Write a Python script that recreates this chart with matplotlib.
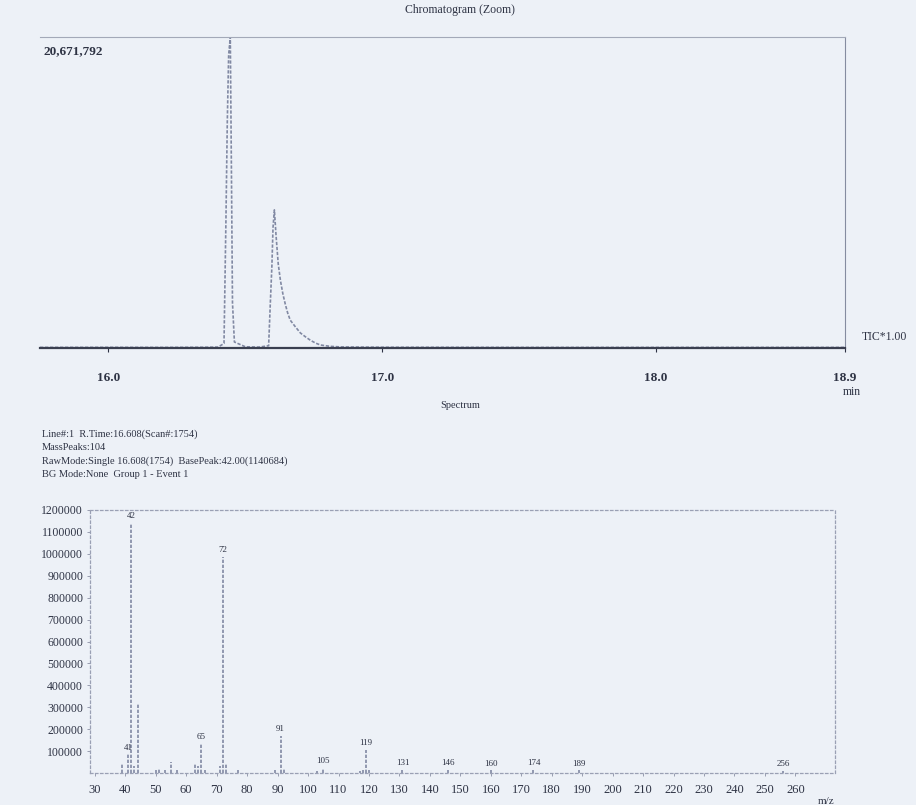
import matplotlib
matplotlib.use("Agg")
import matplotlib.pyplot as plt

# TIC trace around the two peaks (minutes, counts)
retTimes=[15.75,16.00,16.20,16.35,16.40,16.422,16.429,16.434,16.439,16.445,16.449,16.453,16.460,
          16.50,16.55,16.585,16.591,16.597,16.601,16.606,16.612,16.620,16.628,16.637,16.646,16.655,
          16.664,16.683,16.701,16.719,16.737,16.756,16.774,16.81,16.85,17.0,17.5,18.0,18.69]
ticCounts=[40000,45000,40000,50000,60000,300000,8400000,15000000,19500000,20671792,12000000,3000000,400000,
           80000,60000,150000,2900000,5500000,8000000,9180000,7500000,5600000,4500000,3600000,2900000,2300000,
           1850000,1400000,1000000,750000,520000,330000,200000,110000,70000,50000,40000,40000,40000]
timeTicks=[16.0,17.0,18.0,18.69]
timeTickLabels=["16.0","17.0","18.0","18.9"]

# mass spectrum at 16.608 min
massValues=[39,41,42,43,44,50,51,53,55,57,63,64,65,66,71,72,73,77,89,91,92,103,105,117,118,119,120,
            131,146,160,174,189,256]
intensities=[40000,85000,1140684,30000,315000,15000,20000,15000,50000,15000,40000,30000,135000,15000,30000,
             985000,40000,15000,15000,170000,20000,10000,25000,10000,15000,105000,15000,
             15000,14000,12000,15000,12000,8000]
labelledMasses=[41,42,65,72,91,105,119,131,146,160,174,189,256]
intensityTicks=list(range(100000,1200001,100000))
massTicks=list(range(30,261,10))

headerLines=["Line#:1  R.Time:16.608(Scan#:1754)",
             "MassPeaks:104",
             "RawMode:Single 16.608(1754)  BasePeak:42.00(1140684)",
             "BG Mode:None  Group 1 - Event 1"]

paper="#edf1f7"
ink="#2e3344"
trace="#8189a3"
serif=["Liberation Serif","DejaVu Serif"]

def figPos(x,y,w,h):
    #pixel box (top-left origin) to figure fraction
    return [x/916,1-(y+h)/805,w/916,h/805]

def drawChromatogram(fig):
    ax=fig.add_axes(figPos(40,37,805,311))
    ax.set_facecolor(paper)
    ax.plot(retTimes,ticCounts,color=trace,lw=1.2,linestyle=(0,(2,1)))
    ax.set_xlim(15.75,18.69)
    ax.set_ylim(0,20671792)
    ax.set_xticks(timeTicks)
    ax.set_xticklabels(timeTickLabels,fontfamily=serif,fontsize=9.5,fontweight="bold",color=ink)
    ax.set_yticks([])
    ax.tick_params(axis="x",length=3,width=0.8,color=ink,pad=14)
    ax.spines["left"].set_visible(False)
    ax.spines["top"].set_color("#a3a9b8")
    ax.spines["right"].set_color("#858ca0")
    ax.spines["bottom"].set_color("#3a3f50")
    ax.spines["bottom"].set_linewidth(1.6)
    ax.text(0.004,0.975,"20,671,792",transform=ax.transAxes,ha="left",va="top",
            fontfamily=serif,fontsize=9.5,fontweight="bold",color=ink)
    fig.text(862/916,1-337/805,"TIC*1.00",ha="left",va="center",fontfamily=serif,fontsize=8.5,color=ink)
    fig.text(852/916,1-392/805,"min",ha="center",va="center",fontfamily=serif,fontsize=8.5,color=ink)
    fig.text(460/916,1-10/805,"Chromatogram (Zoom)",ha="center",va="center",fontfamily=serif,fontsize=8.5,color=ink)
    return ax

def drawSpectrum(fig):
    ax=fig.add_axes(figPos(90,510,745,263))
    ax.set_facecolor(paper)
    ax.vlines(massValues,0,intensities,colors=trace,lw=1.2,linestyles=(0,(2,1)))
    for m,val in zip(massValues,intensities):
        if m in labelledMasses:
            ax.annotate(str(m),(m,val),xytext=(0,2),textcoords="offset points",ha="center",va="bottom",
                        fontfamily=serif,fontsize=6.5,color=ink)
    ax.set_xlim(28.4,273)
    ax.set_ylim(0,1200000)
    ax.set_xticks(massTicks)
    ax.set_xticklabels([str(t) for t in massTicks],fontfamily=serif,fontsize=9,color=ink)
    ax.set_yticks(intensityTicks)
    ax.set_yticklabels([str(t) for t in intensityTicks],fontfamily=serif,fontsize=8.5,color=ink)
    ax.tick_params(length=2,width=0.6,color="#8a90a4",pad=3)
    ax.tick_params(axis="x",pad=6)
    for side in ["left","right","top","bottom"]:
        ax.spines[side].set_linestyle((0,(2,2)))
        ax.spines[side].set_color("#9aa0b4")
        ax.spines[side].set_linewidth(0.9)
    fig.text(460/916,1-405/805,"Spectrum",ha="center",va="center",fontfamily=serif,fontsize=7.5,color=ink)
    for i,line in enumerate(headerLines):
        fig.text(42/916,1-(434+i*13.5)/805,line,ha="left",va="center",fontfamily=serif,fontsize=7.5,color=ink)
    fig.text(826/916,1-801/805,"m/z",ha="center",va="center",fontfamily=serif,fontsize=8,color=ink)
    return ax

def main():
    plt.rcParams["font.family"]=serif
    fig=plt.figure(figsize=(9.16,8.05),dpi=100,facecolor=paper)
    drawChromatogram(fig)
    drawSpectrum(fig)
    fig.savefig("out.png",dpi=100,facecolor=paper)

if __name__ == "__main__":
    main()
